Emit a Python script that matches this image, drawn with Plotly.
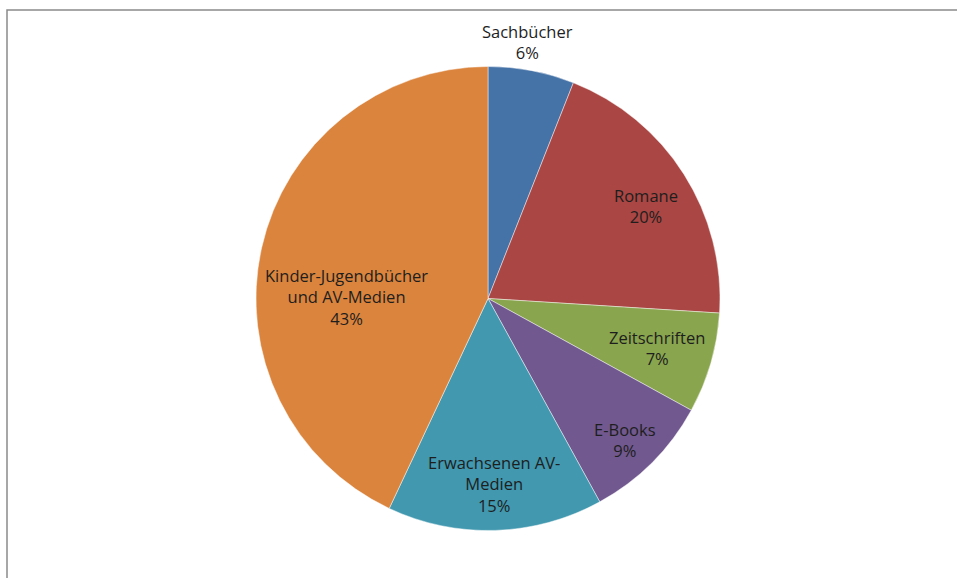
import math
import plotly.graph_objects as go

# Medienbestand nach Kategorie (Anteile in %)
categories = ["Sachbücher", "Romane", "Zeitschriften", "E-Books",
              "Erwachsenen AV-Medien", "Kinder-Jugendbücher und AV-Medien"]
display_names = ["Sachbücher", "Romane", "Zeitschriften", "E-Books",
                 "Erwachsenen AV-<br>Medien", "Kinder-Jugendbücher<br>und AV-Medien"]
shares = [6, 20, 7, 9, 15, 43]

colors = ["#4572A7", "#AA4643", "#89A54E", "#71588F", "#4198AF", "#DB843D"]

W, H = 957, 578
CX, CY, R = 488, 298.5, 232   # pie centre and radius in pixels

# label placement: radial fraction of R and angular nudge (degrees)
label_radius = [1.12, 0.79, 0.76, 0.85, 0.80, 0.61]
label_nudge = [-2, 2, 0, 1, 0, -12]

fig = go.Figure(go.Pie(
    labels=categories,
    values=shares,
    sort=False,
    direction="clockwise",
    rotation=0,
    marker=dict(colors=colors, line=dict(color="rgba(255,255,255,0.45)", width=1)),
    textinfo="none",
    hoverinfo="label+percent",
    showlegend=False,
    domain=dict(x=[(CX - R) / W, (CX + R) / W],
                y=[(H - CY - R) / H, (H - CY + R) / H]),
))

total = sum(shares)
annotations = []
cum = 0
for name, val, rf, nudge in zip(display_names, shares, label_radius, label_nudge):
    mid = (cum + val / 2) / total * 360 + nudge
    cum += val
    px = CX + rf * R * math.sin(math.radians(mid))
    py = CY - rf * R * math.cos(math.radians(mid))
    annotations.append(dict(
        x=px / W, y=1 - py / H, xref="paper", yref="paper",
        text=f"{name}<br>{round(val / total * 100)}%",
        showarrow=False, xanchor="center", yanchor="middle",
        font=dict(family="Open Sans", size=16.5, color="#1e1e1e"),
    ))

fig.update_layout(
    width=W, height=H,
    margin=dict(l=0, r=0, t=0, b=0),
    paper_bgcolor="white",
    plot_bgcolor="white",
    annotations=annotations,
    shapes=[dict(type="rect", xref="paper", yref="paper",
                 x0=7 / W, x1=1.05, y0=-0.05, y1=1 - 10 / H,
                 line=dict(color="#8a8a8a", width=1.5))],
)

fig.write_html("out.html")
